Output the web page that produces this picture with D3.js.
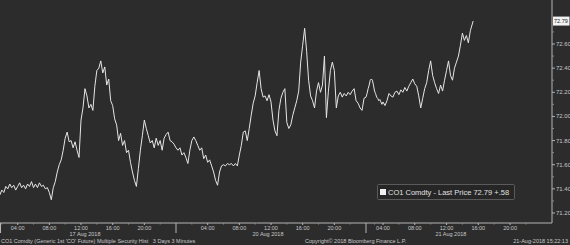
<!DOCTYPE html>
<html>
<head>
<meta charset="utf-8">
<script src="https://cdn.jsdelivr.net/npm/d3@7"></script>
<style>
  body { margin: 0; background: #2c2c2c; }
  svg { display: block; }
  text { font-family: "Liberation Sans", Arial, sans-serif; fill: #c8c8c8; }
</style>
</head>
<body>
<div id="chart"></div>
<script>
const w = 570, h = 245;

// CO1 Comdty, 15-minute readings per trading day (weekend 18-19 Aug collapsed)
const dayLabels = ["17 Aug 2018", "20 Aug 2018", "21 Aug 2018"];
const dayStartHour = [1.75, 0, 0];
const day1Prices = [71.35,71.39,71.37,71.42,71.40,71.44,71.41,71.43,71.39,71.42,71.45,71.41,71.43,71.40,71.44,71.42,
  71.46,71.41,71.44,71.41,71.45,71.42,71.43,71.40,71.41,71.37,71.31,71.41,71.46,71.54,71.60,71.64,71.72,71.82,71.87,
  71.79,71.80,71.74,71.79,71.72,71.66,71.97,72.07,72.23,72.17,72.07,72.10,72.05,72.25,72.38,72.40,72.46,72.36,72.41,
  72.26,72.31,72.13,72.09,71.98,71.93,71.80,71.86,71.76,71.80,71.70,71.72,71.62,71.54,71.47,71.42,71.57,71.72,71.84,
  71.97,71.90,71.84,71.78,71.80,71.74,71.82,71.76,71.80,71.72,71.82,71.85,71.87,71.80,71.79,71.77];
const day2Prices = [71.74,71.72,71.74,71.68,71.70,71.66,71.61,71.72,71.80,71.83,71.80,71.76,71.72,71.74,71.65,71.68,
  71.62,71.64,71.59,71.54,71.47,71.43,71.54,71.59,71.60,71.59,71.61,71.60,71.61,71.59,71.61,71.59,71.68,71.76,71.87,
  71.88,71.80,71.90,72.01,72.11,72.17,72.28,72.38,72.23,72.16,72.17,72.13,72.18,72.12,71.97,71.88,71.84,72.05,72.15,
  72.20,72.23,71.95,71.90,71.93,72.01,72.07,72.13,72.21,72.45,72.59,72.73,72.54,72.30,72.17,72.13,72.07,72.21,72.28,
  72.20,72.26,72.50,71.99,72.21,72.38,72.45,72.38,72.07,72.17,72.20,72.16,72.19,72.17,72.20,72.18,72.21,72.23,72.13,
  72.11,72.07,72.05,72.15];
const day3Prices = [72.16,72.19,72.23,72.26,72.30,72.31,72.30,72.26,72.21,72.19,72.16,72.15,72.13,72.14,72.12,72.10,
  72.12,72.09,72.13,72.19,72.17,72.16,72.20,72.21,72.18,72.22,72.20,72.24,72.21,72.25,72.28,72.31,72.27,72.25,72.17,
  72.07,72.15,72.23,72.28,72.38,72.46,72.34,72.28,72.23,72.19,72.26,72.21,72.30,72.38,72.46,72.34,72.30,72.40,72.45,
  72.50,72.59,72.69,72.63,72.67,72.61,72.71];
const lastTime = 15.35, lastPrice = 72.79, netChange = "+.58";
const ticker = "CO1 Comdty";

const yTicks = [71.2, 71.4, 71.6, 71.8, 72.0, 72.2, 72.4, 72.6];
const yMinor = [71.3, 71.5, 71.7, 71.9, 72.1, 72.3, 72.5, 72.7];
const xTickHours = [4, 8, 12, 16, 20];

const footerLeft = "CO1 Comdty (Generic 1st 'CO' Future) Multiple Security Hist   3 Days 3 Minutes";
const footerMid = "Copyright\u00a9 2018 Bloomberg Finance L.P.";
const footerRight = "21-Aug-2018 15:22:13";

// build series: hours since 17 Aug 00:00 with weekend removed
const allDays = [day1Prices, day2Prices, day3Prices];
let series = [];
allDays.forEach((prices, d) => {
  prices.forEach((p, i) => series.push({t: d * 24 + dayStartHour[d] + i * 0.25, p: p}));
});
series.push({t: 48 + lastTime, p: lastPrice});

const plotRight = 552, plotBottom = 223;

const svg = d3.select("#chart").append("svg")
  .attr("width", w).attr("height", h);

svg.append("rect").attr("width", w).attr("height", h).attr("fill", "#2c2c2c");

// early hours of 21 Aug are thinly traded and compressed on the axis
const xScale = d3.scaleLinear()
  .domain([0, 48, 52, 76])
  .range([-14, 366, 383, 573.6]);

const yScale = d3.scaleLinear()
  .domain([71.2, 72.6])
  .range([213, 44]);

// axes lines
svg.append("line").attr("x1", 0).attr("x2", plotRight)
  .attr("y1", plotBottom).attr("y2", plotBottom)
  .attr("stroke", "#b4b4b4").attr("stroke-width", 1);
svg.append("line").attr("x1", plotRight).attr("x2", plotRight)
  .attr("y1", 0).attr("y2", plotBottom)
  .attr("stroke", "#b4b4b4").attr("stroke-width", 1);

// y axis on the right
const yAxis = svg.append("g");
yAxis.selectAll(".ymaj").data(yTicks).enter().append("line")
  .attr("x1", plotRight).attr("x2", plotRight + 3)
  .attr("y1", d => yScale(d)).attr("y2", d => yScale(d))
  .attr("stroke", "#b4b4b4");
yAxis.selectAll(".ymin").data(yMinor).enter().append("line")
  .attr("x1", plotRight).attr("x2", plotRight + 2)
  .attr("y1", d => yScale(d)).attr("y2", d => yScale(d))
  .attr("stroke", "#8a8a8a");
yAxis.selectAll("text").data(yTicks).enter().append("text")
  .attr("x", plotRight + 4)
  .attr("y", d => yScale(d) + 2)
  .attr("font-size", "6px")
  .text(d => d.toFixed(2));

// last price marker
const lastY = yScale(lastPrice);
svg.append("rect").attr("x", plotRight + 1).attr("y", lastY - 4.5)
  .attr("width", 16.5).attr("height", 9).attr("fill", "#f2f2f2");
svg.append("text").attr("x", plotRight + 2).attr("y", lastY + 2)
  .attr("font-size", "5.5px").style("fill", "#222")
  .text(lastPrice.toFixed(2));

// x axis ticks and labels
const xAxis = svg.append("g");
dayLabels.forEach((lab, d) => {
  xTickHours.forEach(hr => {
    const x = xScale(d * 24 + hr);
    xAxis.append("line").attr("x1", x).attr("x2", x)
      .attr("y1", plotBottom).attr("y2", plotBottom + 2)
      .attr("stroke", "#b4b4b4");
    xAxis.append("text").attr("x", x).attr("y", plotBottom + 7)
      .attr("text-anchor", "middle").attr("font-size", "5.5px")
      .text(String(hr).padStart(2, "0") + ":00");
  });
  [2, 6, 10, 14, 18, 22].forEach(hr => {
    const x = xScale(d * 24 + hr);
    if (x > 0 && x < plotRight)
      xAxis.append("line").attr("x1", x).attr("x2", x)
        .attr("y1", plotBottom).attr("y2", plotBottom + 1.5)
        .attr("stroke", "#8a8a8a");
  });
  const x0 = Math.max(0, xScale(d * 24)), x1 = Math.min(plotRight, xScale(d * 24 + 24));
  xAxis.append("text").attr("x", (x0 + x1) / 2 - 3).attr("y", plotBottom + 13)
    .attr("text-anchor", "middle").attr("font-size", "5.5px")
    .text(lab);
});
// day separators
[0.5, xScale(24), xScale(48)].forEach(x => {
  xAxis.append("line").attr("x1", x).attr("x2", x)
    .attr("y1", plotBottom).attr("y2", plotBottom + 10)
    .attr("stroke", "#b4b4b4");
});

// price line
svg.append("path")
  .datum(series)
  .attr("fill", "none")
  .attr("stroke", "#e6e6e6")
  .attr("stroke-width", 1)
  .attr("stroke-linejoin", "round")
  .attr("d", d3.line()
    .x(d => xScale(d.t))
    .y(d => yScale(d.p)));

// legend
const lg = svg.append("g");
lg.append("rect").attr("x", 377.5).attr("y", 184.5).attr("width", 137).attr("height", 15)
  .attr("fill", "#262626").attr("stroke", "#5a5a5a").attr("rx", 1);
lg.append("rect").attr("x", 380).attr("y", 189).attr("width", 6).attr("height", 6)
  .attr("fill", "#f0f0f0");
lg.append("text").attr("x", 388).attr("y", 195).attr("font-size", "7.5px")
  .style("fill", "#e0e0e0")
  .text(ticker + " - Last Price " + lastPrice.toFixed(2) + "  " + netChange);

// footer
svg.append("text").attr("x", 1).attr("y", 243).attr("font-size", "5.5px")
  .attr("xml:space", "preserve").text(footerLeft);
svg.append("text").attr("x", 305).attr("y", 243).attr("font-size", "5.5px").text(footerMid);
svg.append("text").attr("x", 568).attr("y", 243).attr("font-size", "5.5px")
  .attr("text-anchor", "end").text(footerRight);
</script>
</body>
</html>
